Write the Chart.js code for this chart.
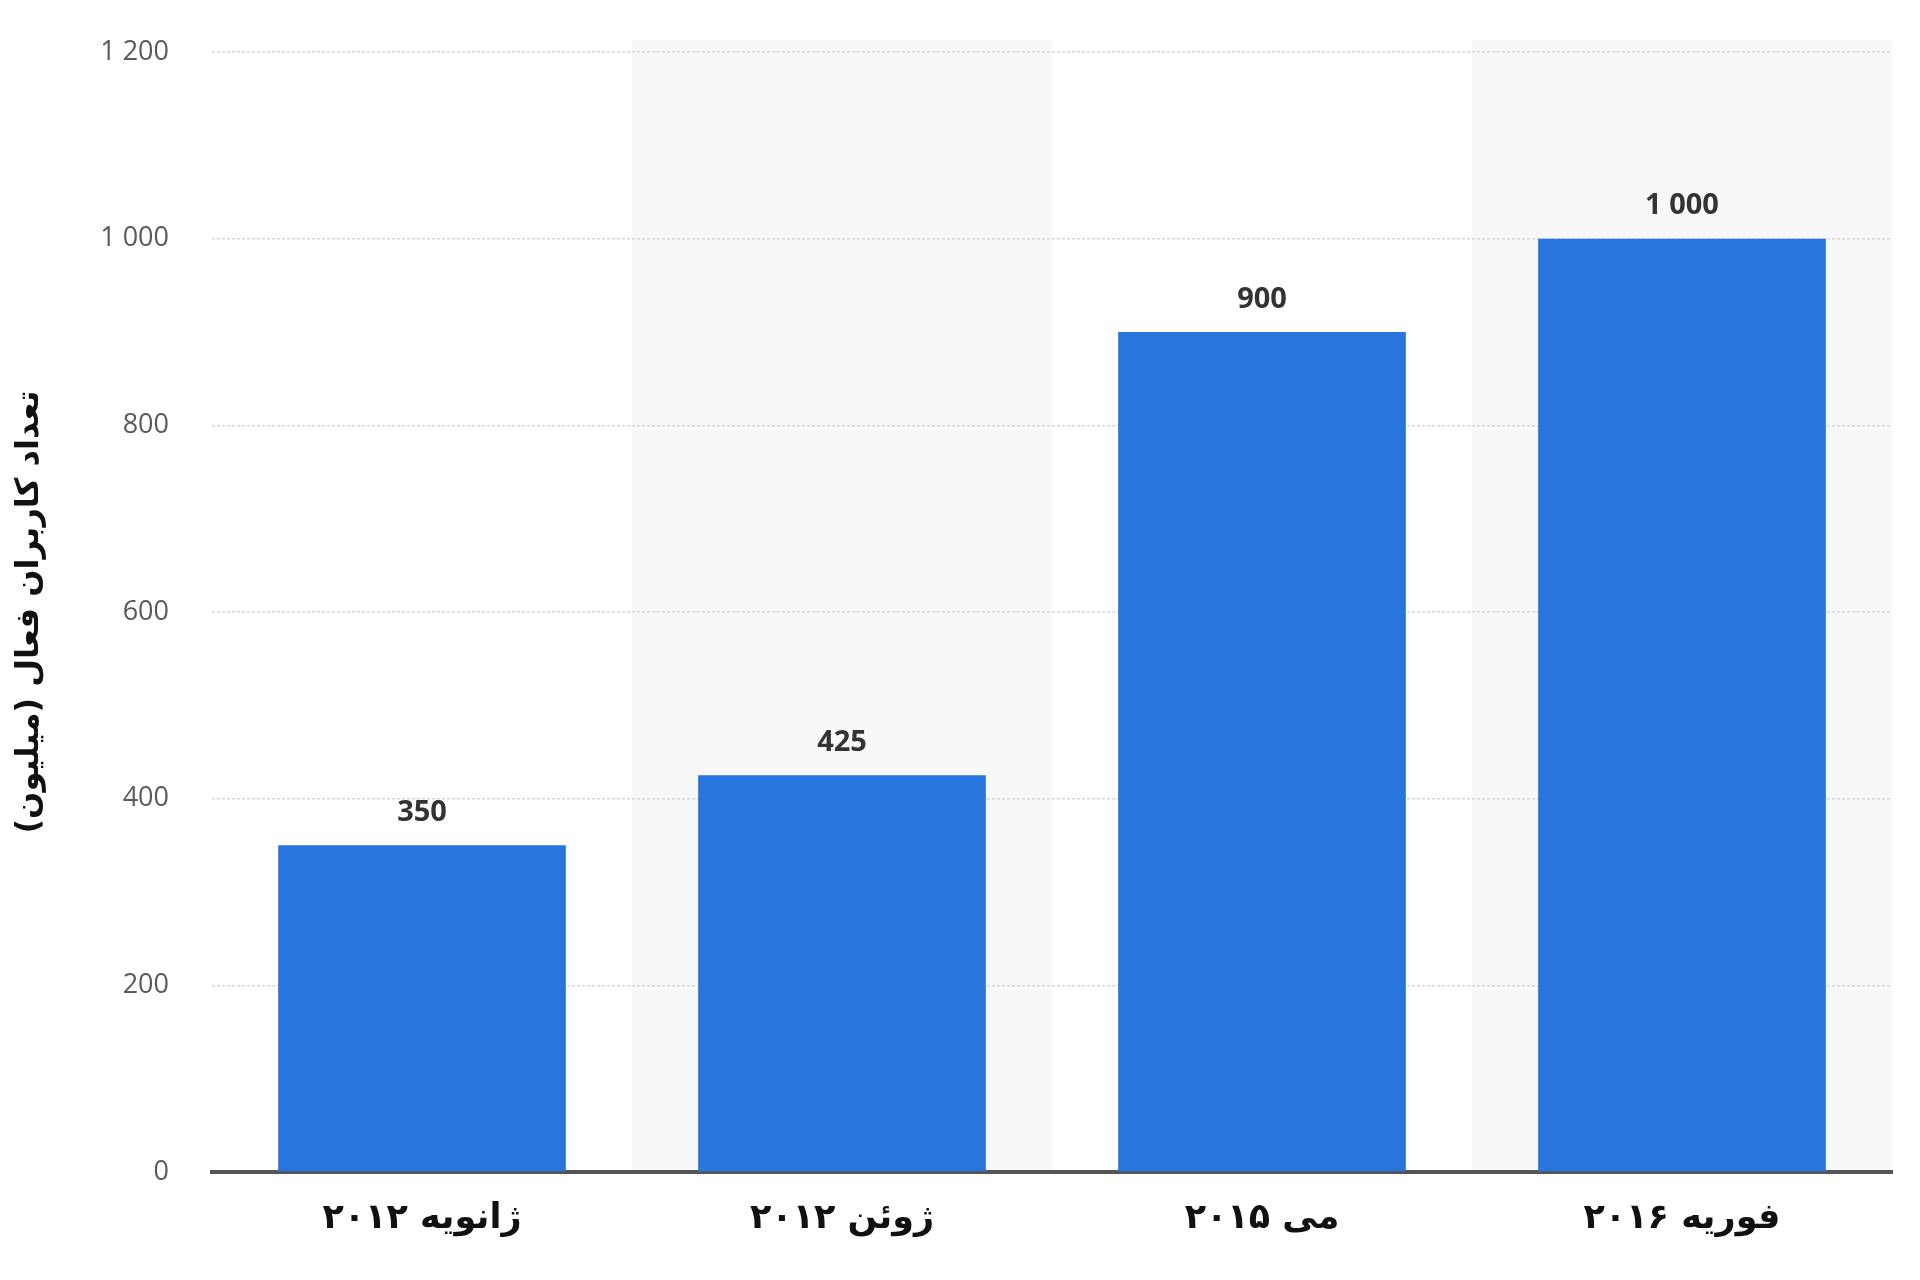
<!DOCTYPE html>
<html>
<head>
<meta charset="utf-8">
<script src="https://cdn.jsdelivr.net/npm/chart.js@4"></script>
<style>
  html, body { margin: 0; padding: 0; background: #fff; }
  #wrap { width: 1920px; height: 1280px; }
</style>
</head>
<body>
<div id="wrap"><canvas id="usersChart" width="1920" height="1280"></canvas></div>
<script>
var categories = ['ژانویه ۲۰۱۲', 'ژوئن ۲۰۱۲', 'می ۲۰۱۵', 'فوریه ۲۰۱۶'];
var activeUsers = [350, 425, 900, 1000];
var yTicks = [0, 200, 400, 600, 800, 1000, 1200];
var yTitle = 'تعداد کاربران فعال (میلیون)\u200F';

function spaced(v) {
    return String(v).replace(/\B(?=(\d{3})+(?!\d))/g, ' ');
}

// light grey band behind every second category, under the grid
var bandPlugin = {
    id: 'bands',
    beforeDraw: function(chart) {
        var ctx = chart.ctx;
        var area = chart.chartArea;
        var x = chart.scales.x;
        var step = (area.right - area.left) / categories.length;
        ctx.save();
        ctx.fillStyle = '#f8f8f8';
        for (var i = 1; i < categories.length; i += 2) {
            var cx = x.getPixelForValue(i);
            ctx.fillRect(cx - step / 2, area.top - 12, step, area.bottom - area.top + 12);
        }
        ctx.restore();
    }
};

var valueLabels = {
    id: 'valueLabels',
    afterDatasetsDraw: function(chart) {
        var ctx = chart.ctx;
        var meta = chart.getDatasetMeta(0);
        ctx.save();
        ctx.font = 'bold 29px "Open Sans", "DejaVu Sans", sans-serif';
        ctx.fillStyle = '#333333';
        ctx.textAlign = 'center';
        ctx.textBaseline = 'bottom';
        meta.data.forEach(function(bar, i) {
            ctx.fillText(spaced(activeUsers[i]), bar.x, bar.y - 18);
        });
        ctx.restore();
    }
};

var ctx = document.getElementById('usersChart').getContext('2d');
var usersChart = new Chart(ctx, {
    type: 'bar',
    data: {
        labels: categories,
        datasets: [{
            label: yTitle,
            data: activeUsers,
            backgroundColor: '#2876dd',
            borderWidth: 0,
            categoryPercentage: 1,
            barPercentage: 0.685
        }]
    },
    options: {
        responsive: false,
        animation: false,
        layout: { padding: { top: 52, right: 28, bottom: 0, left: 0 } },
        plugins: {
            legend: { display: false },
            tooltip: { enabled: false }
        },
        scales: {
            x: {
                z: 1,
                grid: { display: false },
                border: { display: true, color: '#555555', width: 4 },
                ticks: {
                    padding: 18,
                    color: '#111111',
                    font: { family: '"DejaVu Sans", sans-serif', size: 35, weight: 'bold' }
                },
                afterFit: function(scale) { scale.height = 108; }
            },
            y: {
                min: 0,
                max: 1200,
                afterBuildTicks: function(scale) {
                    scale.ticks = yTicks.map(function(v) { return { value: v }; });
                },
                grid: {
                    color: '#d6d6d6',
                    lineWidth: 1.5,
                    drawTicks: false
                },
                border: { display: false, dash: [3, 2] },
                ticks: {
                    padding: 43,
                    color: '#5a5a5a',
                    font: { family: '"Open Sans", sans-serif', size: 27 },
                    callback: function(v) { return spaced(v); }
                },
                title: {
                    display: true,
                    text: yTitle,
                    color: '#111111',
                    padding: { top: 10, bottom: 0 },
                    font: { family: '"DejaVu Sans", sans-serif', size: 32, weight: 'bold' }
                },
                afterFit: function(scale) {
                    scale.width = 212;
                    scale.paddingTop = 0;
                    scale.paddingBottom = 0;
                }
            }
        }
    },
    plugins: [bandPlugin, valueLabels]
});
</script>
</body>
</html>
